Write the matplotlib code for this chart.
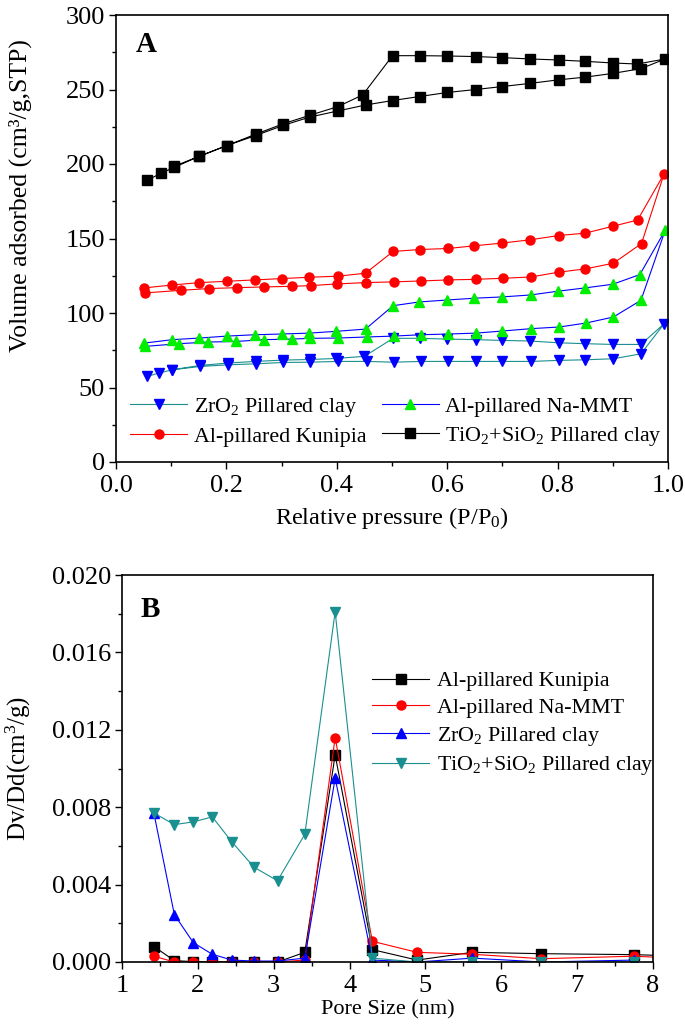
import matplotlib
matplotlib.use("Agg")
import matplotlib.pyplot as plt
from matplotlib.ticker import MultipleLocator

# fonts: Times-like serif everywhere, also inside mathtext
plt.rcParams['font.family'] = ['Liberation Serif', 'DejaVu Serif']
plt.rcParams['mathtext.fontset'] = 'custom'
plt.rcParams['mathtext.rm'] = 'Liberation Serif'
plt.rcParams['mathtext.it'] = 'Liberation Serif:italic'
plt.rcParams['mathtext.bf'] = 'Liberation Serif:bold'

# ---------------- panel A: isotherms ----------------
# TiO2+SiO2 pillared clay
tio2_ads_x = [0.056, 0.081, 0.105, 0.151, 0.201, 0.253, 0.303, 0.351, 0.402, 0.452, 0.501,
              0.550, 0.600, 0.652, 0.700, 0.750, 0.802, 0.850, 0.900, 0.951, 0.995]
tio2_ads_y = [189.0, 193.7, 197.7, 205.2, 212.4, 219.1, 225.9, 231.5, 235.6, 239.6, 242.6,
              245.3, 248.0, 250.0, 252.0, 254.1, 256.5, 258.3, 260.8, 264.0, 270.5]
tio2_des_x = [0.944, 0.900, 0.850, 0.802, 0.750, 0.700, 0.652, 0.600, 0.550, 0.501, 0.447,
              0.402, 0.351, 0.303, 0.253, 0.201, 0.151, 0.105]
tio2_des_y = [267.1, 267.8, 268.9, 269.8, 270.5, 271.4, 272.1, 272.5, 272.7, 272.7, 246.4,
              238.5, 232.7, 227.0, 220.0, 212.4, 205.2, 198.4]

# Al-pillared Kunipia
kun_ads_x = [0.053, 0.117, 0.168, 0.219, 0.269, 0.319, 0.353, 0.400, 0.452, 0.503, 0.553,
             0.602, 0.652, 0.701, 0.752, 0.802, 0.850, 0.901, 0.952, 0.993]
kun_ads_y = [113.5, 115.2, 116.4, 117.0, 117.5, 117.9, 118.4, 119.5, 120.4, 120.9, 121.5,
             122.2, 122.6, 123.3, 124.2, 127.4, 129.6, 133.4, 146.6, 193.5]
kun_des_x = [0.945, 0.901, 0.850, 0.802, 0.750, 0.699, 0.649, 0.602, 0.550, 0.502, 0.452,
             0.402, 0.350, 0.300, 0.251, 0.201, 0.151, 0.102, 0.050]
kun_des_y = [162.4, 158.3, 153.6, 152.0, 149.1, 146.9, 145.1, 143.3, 142.6, 141.3, 126.7,
             124.7, 124.0, 123.1, 122.2, 121.3, 120.4, 118.8, 116.8]

# Al-pillared Na-MMT
na_ads_x = [0.053, 0.114, 0.166, 0.217, 0.268, 0.318, 0.352, 0.402, 0.454, 0.503, 0.552,
            0.602, 0.652, 0.700, 0.752, 0.803, 0.852, 0.901, 0.951, 0.995]
na_ads_y = [77.6, 79.4, 80.5, 80.9, 82.1, 82.5, 83.0, 83.2, 83.9, 84.5, 85.4,
            85.9, 86.5, 87.9, 89.5, 90.6, 93.3, 97.3, 108.5, 155.6]
na_des_x = [0.949, 0.900, 0.849, 0.800, 0.751, 0.700, 0.648, 0.599, 0.549, 0.502, 0.452,
            0.399, 0.350, 0.300, 0.251, 0.201, 0.151, 0.102, 0.051]
na_des_y = [125.8, 119.3, 116.8, 114.6, 112.1, 110.8, 109.9, 108.7, 107.4, 104.9, 89.2,
            87.7, 86.5, 85.9, 85.4, 84.5, 83.2, 82.1, 79.8]

# ZrO2 pillared clay
zr_ads_x = [0.056, 0.077, 0.102, 0.152, 0.202, 0.253, 0.303, 0.352, 0.402, 0.454, 0.503,
            0.552, 0.602, 0.652, 0.700, 0.752, 0.802, 0.850, 0.901, 0.951, 0.993]
zr_ads_y = [57.4, 59.6, 61.9, 64.1, 65.2, 65.9, 66.8, 67.0, 67.5, 67.5, 67.0,
            67.5, 67.5, 67.5, 67.5, 67.5, 68.2, 68.6, 69.3, 72.6, 92.8]
zr_des_x = [0.951, 0.900, 0.850, 0.802, 0.750, 0.700, 0.652, 0.600, 0.550, 0.502, 0.450,
            0.399, 0.352, 0.303, 0.253, 0.202, 0.152, 0.102]
zr_des_y = [78.9, 78.9, 79.4, 80.0, 81.2, 81.6, 82.1, 82.5, 83.0, 83.0, 70.9,
            69.5, 68.8, 68.4, 67.5, 66.4, 64.8, 61.9]

# ---------------- panel B: pore size distribution ----------------
pore_size = [1.42, 1.69, 1.94, 2.19, 2.45, 2.74, 3.05, 3.41, 3.81, 4.30, 4.89, 5.62, 6.53, 7.75]
kunipia_psd = [0.0008, 0.00007, 0.00002, 0.00002, 0.0, 0.0, 0.0, 0.0005, 0.0107,
               0.00064, 0.0001, 0.0005, 0.00043, 0.00038]
na_mmt_psd = [0.0003, 0.0, 0.0, 0.0, 0.0, 0.0, 0.0, 0.0001, 0.0116,
              0.00107, 0.0005, 0.0004, 0.00017, 0.0003]
zro2_psd = [0.0077, 0.00245, 0.001, 0.0004, 0.0001, 0.00005, 0.00005, 0.0002, 0.0095,
            0.0001, 0.0, 0.0002, 0.0, 0.0001]
tio2_psd = [0.0077, 0.0071, 0.00724, 0.0075, 0.0062, 0.0049, 0.0042, 0.0066, 0.0181,
            0.0002, 0.0, 0.0, 0.0, 0.0]
# the last data point sits just past the right edge of the axis
tail_x = 8.4
kunipia_tail = 0.0003
na_mmt_tail = 0.00018

teal = '#1a8f8f'

fig = plt.figure(figsize=(6.85, 10.24), dpi=100)
ax1 = fig.add_axes([116 / 685, 1 - 462 / 1024, (668 - 116) / 685, (462 - 15) / 1024])
ax2 = fig.add_axes([122 / 685, 1 - 962 / 1024, (653 - 122) / 685, (962 - 575) / 1024])

# panel A: each isotherm drawn as adsorption branch followed by desorption branch
line_kw = dict(linewidth=0.8, markersize=6.5)
h_zr, = ax1.plot(zr_ads_x + zr_des_x, zr_ads_y + zr_des_y, color=teal, marker='v',
                 markerfacecolor='blue', markeredgecolor='blue', **line_kw)
h_kun, = ax1.plot(kun_ads_x + kun_des_x, kun_ads_y + kun_des_y, color='red', marker='o',
                  markerfacecolor='red', markeredgecolor='red', **line_kw)
h_na, = ax1.plot(na_ads_x + na_des_x, na_ads_y + na_des_y, color='blue', marker='^',
                 markerfacecolor='#00ee00', markeredgecolor='#00ee00', **line_kw)
h_ti, = ax1.plot(tio2_ads_x + tio2_des_x, tio2_ads_y + tio2_des_y, color='black', marker='s',
                 markerfacecolor='black', markeredgecolor='black', **line_kw)

ax1.set_xlim(0.0, 1.0)
ax1.set_ylim(0, 300)
ax1.xaxis.set_major_locator(MultipleLocator(0.2))
ax1.xaxis.set_minor_locator(MultipleLocator(0.1))
ax1.yaxis.set_major_locator(MultipleLocator(50))
ax1.yaxis.set_minor_locator(MultipleLocator(25))
ax1.xaxis.set_major_formatter(matplotlib.ticker.FormatStrFormatter('%.1f'))
ax1.set_xlabel('Relative pressure (P/P$_0$)', fontsize=17.5)
ax1.set_ylabel('Volume adsorbed (cm³/g,STP)', fontsize=18.5)
# label positions as in the original (the y label sits above the axis centre)
ax1.xaxis.set_label_coords(0.5, -0.097)
ax1.yaxis.set_label_coords(-0.152, 0.597)
ax1.text(0.035, 0.935, 'A', transform=ax1.transAxes, fontsize=21, fontweight='bold',
         va='center', ha='left')
ax1.legend([h_zr, h_kun, h_na, h_ti],
           ['ZrO$_2$ Pillared clay', 'Al-pillared Kunipia',
            'Al-pillared Na-MMT', 'TiO$_2$+SiO$_2$ Pillared clay'],
           ncol=2, loc='lower left', bbox_to_anchor=(0.0, 0.0), frameon=False,
           fontsize=15.8, handlelength=2.6, handletextpad=0.3, columnspacing=0.7,
           labelspacing=0.35, borderaxespad=0.25)

# panel B
h1, = ax2.plot(pore_size + [tail_x], kunipia_psd + [kunipia_tail], color='black',
               marker='s', markevery=list(range(len(pore_size))), **line_kw)
h2, = ax2.plot(pore_size + [tail_x], na_mmt_psd + [na_mmt_tail], color='red',
               marker='o', markevery=list(range(len(pore_size))), **line_kw)
h3, = ax2.plot(pore_size, zro2_psd, color='blue', marker='^', **line_kw)
h4, = ax2.plot(pore_size, tio2_psd, color=teal, marker='v', **line_kw)

ax2.set_xlim(1, 8)
ax2.set_ylim(0, 0.020)
ax2.xaxis.set_major_locator(MultipleLocator(1))
ax2.xaxis.set_minor_locator(MultipleLocator(0.5))
ax2.yaxis.set_major_locator(MultipleLocator(0.004))
ax2.yaxis.set_minor_locator(MultipleLocator(0.002))
ax2.yaxis.set_major_formatter(matplotlib.ticker.FormatStrFormatter('%.3f'))
ax2.set_xlabel('Pore Size (nm)', fontsize=16)
ax2.set_ylabel('Dv/Dd(cm$^3$/g)', fontsize=18)
ax2.xaxis.set_label_coords(0.5, -0.1)
ax2.yaxis.set_label_coords(-0.168, 0.5)
ax2.text(0.035, 0.91, 'B', transform=ax2.transAxes, fontsize=21, fontweight='bold',
         va='center', ha='left')
ax2.legend([h1, h2, h3, h4],
           ['Al-pillared Kunipia', 'Al-pillared Na-MMT',
            'ZrO$_2$ Pillared clay', 'TiO$_2$+SiO$_2$ Pillared clay'],
           loc='upper left', bbox_to_anchor=(0.455, 0.775), frameon=False,
           fontsize=15.8, handlelength=2.6, handletextpad=0.35, labelspacing=0.3,
           borderaxespad=0.0)

# axis styling shared by both panels
for ax in (ax1, ax2):
    for side in ax.spines.values():
        side.set_linewidth(1.2)
    ax.tick_params(which='major', direction='out', length=5, width=1.0, labelsize=19,
                   top=False, right=False, pad=3)
    ax.tick_params(which='minor', direction='out', length=3, width=1.0,
                   top=False, right=False)
    ax.tick_params(axis='x', which='major', pad=4)

fig.savefig('out.png', dpi=100)
